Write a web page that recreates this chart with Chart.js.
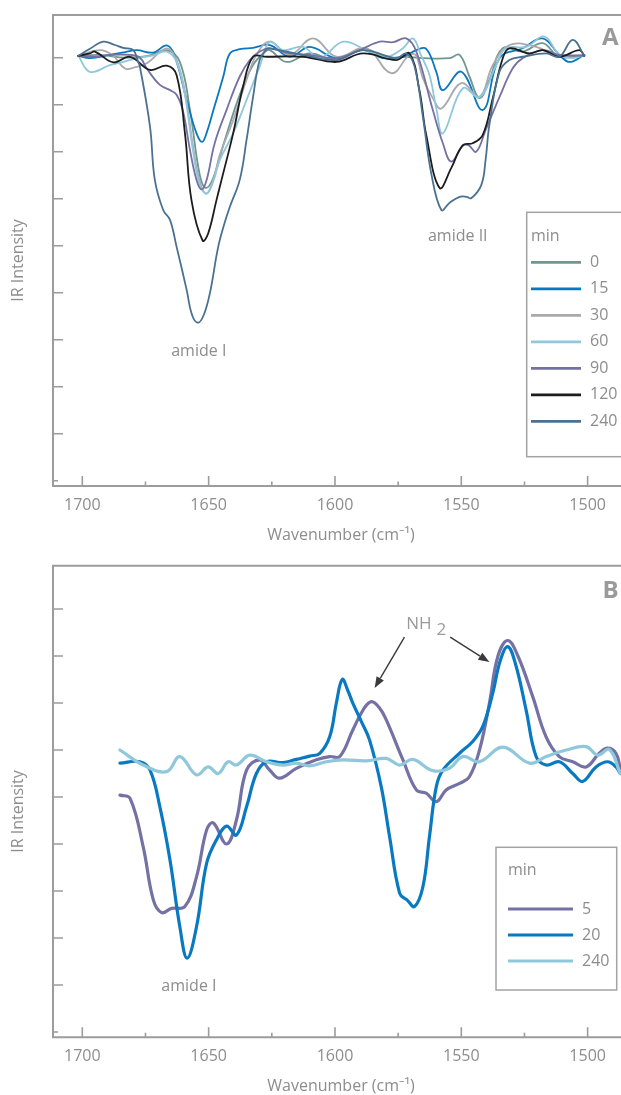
<!DOCTYPE html>
<html><head><meta charset="utf-8">
<script src="https://cdn.jsdelivr.net/npm/chart.js@4.4.1/dist/chart.umd.min.js"></script>
<style>
html,body{margin:0;padding:0;background:#fff;}
body{width:621px;height:1095px;position:relative;overflow:hidden;}
canvas{position:absolute;left:0;}
</style></head><body>
<canvas id="cA" width="621" height="547" style="top:0"></canvas>
<canvas id="cB" width="621" height="547" style="top:548px"></canvas>
<script>
// ---------- DATA ----------
const waveTicksMajor = [1700, 1650, 1600, 1550, 1500];
const waveTicksMinor = [1675, 1625, 1575, 1525];
const yTicksA = [0, -1, -2, -3, -4, -5, -6, -7, -8, -9];
const yTicksB = [3, 2, 1, 0, -1, -2, -3, -4, -5, -6];
const timesA = ['0', '15', '30', '60', '90', '120', '240'];
const timesB = ['5', '20', '240'];

// Panel A spectra: [wavenumber, intensity]
const A_0 = [[1701.6,0.04],[1693.0,0.06],[1683.0,0.00],[1674.0,0.04],[1666.6,0.16],[1661.4,-0.09],[1657.4,-1.11],[1653.5,-2.50],[1651.1,-2.77],[1648.2,-2.56],[1643.6,-1.75],[1637.7,-0.79],[1632.5,-0.16],[1627.8,0.12],[1625.8,0.16],[1619.2,-0.09],[1610.0,0.09],[1599.4,-0.05],[1588.9,0.20],[1579.7,-0.01],[1573.1,0.02],[1565.2,-0.01],[1554.7,-0.01],[1550.7,0.06],[1546.8,-0.40],[1542.8,-0.86],[1538.9,-0.47],[1533.6,0.20],[1525.7,0.13],[1517.8,0.31],[1511.2,0.02],[1501.3,0.06]];
const A_15 = [[1701.6,0.04],[1697.0,-0.01],[1689.1,0.06],[1683.0,0.12],[1678.5,0.16],[1671.9,0.11],[1666.6,0.26],[1663.5,0.05],[1658.7,-0.90],[1654.8,-1.61],[1652.6,-1.79],[1650.8,-1.60],[1648.2,-1.13],[1644.2,-0.40],[1641.6,0.09],[1637.7,0.18],[1632.4,0.21],[1625.8,0.27],[1617.9,0.02],[1610.0,0.23],[1599.4,-0.01],[1588.9,0.16],[1581.0,-0.01],[1573.1,0.02],[1567.8,0.16],[1563.9,0.19],[1559.9,-0.30],[1557.3,-0.69],[1550.0,-0.30],[1541.5,-1.11],[1534.9,-0.01],[1525.7,0.20],[1517.8,0.41],[1511.2,0.06],[1507.2,-0.09],[1501.3,0.06]];
const A_30 = [[1701.6,0.04],[1693.0,0.16],[1688.0,0.05],[1683.1,-0.23],[1679.0,-0.20],[1674.5,-0.12],[1666.6,0.20],[1662.7,-0.05],[1659.4,-0.73],[1656.25,-1.86],[1653.5,-2.64],[1650.8,-2.89],[1648.2,-2.60],[1645.6,-2.07],[1640.3,-1.33],[1635.0,-0.47],[1631.1,0.06],[1625.8,0.34],[1617.9,0.06],[1608.7,0.41],[1599.4,0.02],[1587.6,0.20],[1577.7,-0.33],[1570.5,0.06],[1568.0,0.05],[1565.2,-0.44],[1561.3,-0.86],[1557.9,-1.08],[1550.0,-0.54],[1542.8,-0.83],[1537.55,-0.16],[1530.95,0.27],[1520.4,0.23],[1512.5,0.06],[1501.3,0.06]];
const A_60 = [[1701.6,0.04],[1697.0,-0.30],[1689.1,-0.16],[1683.0,-0.08],[1678.5,-0.01],[1672.0,0.05],[1666.6,0.13],[1662.7,-0.09],[1659.4,-0.79],[1656.25,-1.96],[1653.5,-2.71],[1650.8,-2.89],[1648.2,-2.64],[1645.6,-2.18],[1640.3,-1.61],[1632.4,-0.54],[1629.8,-0.19],[1625.8,0.34],[1620.6,0.16],[1612.6,0.23],[1606.0,-0.01],[1596.8,0.34],[1587.6,0.16],[1579.7,0.02],[1573.1,0.20],[1569.2,0.41],[1566.0,0.06],[1562.6,-0.37],[1559.9,-1.08],[1557.3,-1.61],[1549.4,-0.65],[1542.8,-0.84],[1536.2,-0.16],[1532.3,0.20],[1524.35,0.23],[1517.1,0.45],[1511.2,0.06],[1505.9,-0.01],[1501.3,0.06]];
const A_90 = [[1701.6,0.04],[1694.3,0.02],[1689.1,0.06],[1681.1,0.06],[1677.2,0.00],[1674.5,-0.23],[1669.3,-0.58],[1665.3,-0.69],[1662.7,-0.79],[1660.1,-1.15],[1657.4,-1.96],[1654.8,-2.60],[1652.8,-2.80],[1650.8,-2.60],[1647.6,-1.82],[1642.9,-1.11],[1637.7,-0.40],[1633.7,-0.05],[1629.8,0.13],[1625.8,0.20],[1617.9,0.09],[1610.0,0.06],[1599.4,-0.01],[1591.5,0.13],[1582.3,0.34],[1577.0,0.33],[1571.8,0.41],[1567.8,0.13],[1561.3,-1.11],[1557.3,-1.82],[1554.0,-2.21],[1549.5,-1.88],[1547.2,-1.86],[1544.1,-2.00],[1540.4,-1.54],[1534.9,-0.84],[1529.6,-0.22],[1525.7,-0.01],[1517.8,0.16],[1511.2,0.06],[1501.3,0.04]];
const A_120 = [[1701.6,0.04],[1697.0,0.09],[1695.0,0.13],[1687.7,-0.10],[1681.1,0.02],[1673.2,-0.26],[1666.6,-0.17],[1662.7,-0.37],[1659.4,-1.60],[1656.8,-3.03],[1652.4,-3.89],[1650.2,-3.74],[1646.9,-3.03],[1644.9,-2.60],[1640.3,-1.61],[1636.4,-0.62],[1632.4,0.02],[1627.1,0.02],[1612.6,0.02],[1599.4,-0.09],[1588.9,0.09],[1575.7,-0.05],[1570.5,0.09],[1566.5,-0.72],[1563.9,-1.64],[1558.6,-2.77],[1554.0,-2.35],[1549.4,-1.86],[1545.5,-1.82],[1541.5,-1.64],[1537.55,-0.86],[1533.6,-0.01],[1530.95,0.20],[1523.0,0.09],[1517.8,0.16],[1511.2,0.02],[1503.3,0.16],[1501.3,0.04]];
const A_240 = [[1701.6,0.04],[1697.0,0.19],[1691.7,0.34],[1687.1,0.27],[1683.8,0.21],[1679.8,0.16],[1677.9,-0.09],[1677.2,-0.19],[1673.2,-1.47],[1671.3,-2.60],[1668.0,-3.24],[1665.3,-3.45],[1662.7,-4.02],[1658.7,-4.94],[1656.6,-5.47],[1654.2,-5.64],[1651.9,-5.47],[1649.5,-5.01],[1646.2,-4.02],[1643.6,-3.50],[1641.6,-3.17],[1637.7,-2.60],[1635.0,-1.75],[1632.4,-0.83],[1629.8,-0.05],[1627.1,0.18],[1625.8,0.20],[1612.6,0.06],[1599.4,-0.05],[1588.9,0.16],[1575.7,-0.01],[1571.8,0.09],[1568.5,-0.19],[1565.2,-1.26],[1561.9,-2.46],[1557.9,-3.24],[1554.7,-3.09],[1550.7,-2.96],[1547.9,-2.96],[1546.1,-2.99],[1542.1,-2.71],[1540.4,-2.18],[1538.9,-1.43],[1534.9,-0.30],[1530.95,-0.05],[1525.7,0.02],[1516.45,0.09],[1511.2,0.02],[1505.9,0.38],[1501.3,0.04]];

// Panel B spectra
const B_5 = [[1685.1,-0.96],[1681.1,-1.03],[1675.9,-2.06],[1671.9,-3.19],[1668.6,-3.46],[1664.7,-3.37],[1659.4,-3.33],[1654.8,-2.70],[1650.8,-1.70],[1648.2,-1.55],[1642.9,-2.00],[1639.0,-1.49],[1635.0,-0.43],[1629.8,-0.21],[1625.8,-0.43],[1621.9,-0.60],[1615.3,-0.39],[1607.35,-0.21],[1602.1,-0.14],[1598.1,-0.14],[1592.9,0.43],[1588.9,0.85],[1585.6,1.03],[1582.3,0.89],[1579.7,0.64],[1573.1,-0.21],[1567.8,-0.85],[1563.9,-0.92],[1559.9,-1.10],[1556.0,-0.85],[1550.7,-0.71],[1546.8,-0.57],[1542.8,0.00],[1538.9,0.99],[1535.5,2.00],[1531.6,2.33],[1527.6,2.00],[1521.7,1.13],[1516.45,0.28],[1511.2,-0.14],[1505.9,-0.25],[1500.6,-0.36],[1495.4,-0.07],[1492.1,0.04],[1488.8,-0.07],[1487.1,-0.39]];
const B_20 = [[1685.1,-0.28],[1677.2,-0.25],[1673.2,-0.43],[1669.3,-1.21],[1665.3,-2.34],[1661.4,-3.76],[1658.5,-4.43],[1654.8,-3.76],[1650.8,-2.41],[1646.9,-1.91],[1642.9,-1.62],[1639.0,-1.81],[1635.0,-1.21],[1631.1,-0.50],[1627.1,-0.25],[1620.6,-0.27],[1615.3,-0.20],[1610.0,-0.13],[1606.0,-0.07],[1602.1,0.28],[1599.45,1.00],[1597.1,1.50],[1594.8,1.25],[1592.9,0.99],[1589.5,0.60],[1586.3,0.21],[1581.7,-0.78],[1578.4,-1.84],[1574.4,-3.05],[1571.5,-3.19],[1568.5,-3.33],[1565.2,-2.91],[1562.6,-1.84],[1559.9,-0.78],[1557.3,-0.43],[1550.7,-0.07],[1545.5,0.18],[1541.5,0.50],[1537.55,1.21],[1534.6,1.90],[1531.6,2.20],[1528.5,1.82],[1524.35,0.85],[1520.4,-0.14],[1516.45,-0.32],[1511.2,-0.25],[1505.9,-0.50],[1502.0,-0.67],[1496.7,-0.36],[1492.1,-0.25],[1488.8,-0.36],[1487.1,-0.50]];
const B_240 = [[1685.1,0.00],[1675.9,-0.32],[1666.6,-0.46],[1661.4,-0.14],[1654.8,-0.53],[1650.2,-0.36],[1646.2,-0.50],[1642.3,-0.25],[1639.0,-0.32],[1633.7,-0.11],[1627.1,-0.25],[1620.6,-0.32],[1615.3,-0.28],[1610.0,-0.34],[1603.4,-0.25],[1596.8,-0.21],[1587.6,-0.23],[1579.7,-0.18],[1574.4,-0.32],[1569.2,-0.20],[1561.3,-0.44],[1554.7,-0.39],[1549.4,-0.14],[1542.8,-0.25],[1533.6,0.06],[1523.0,-0.28],[1516.45,-0.14],[1508.5,0.00],[1500.6,0.07],[1496.0,-0.11],[1491.4,0.01],[1487.1,-0.50]];

// annotations in data coordinates [wavenumber, intensity]
const annotA = [['amide I', 1653.9, -6.26], ['amide II', 1551.4, -3.81]];
const annotB = [['amide I', 1657.8, -5.04]];
const nh2Label = [1571.8, 2.68];
const nh2Arrows = [[1572.5, 2.40, 1584.3, 1.32], [1554.4, 2.40, 1538.9, 1.87]];

// ---------- STYLE ----------
const AXIS = '#9c9c9c';
const TEXT = '#8d8d8d';
const FAM = '"Open Sans", "Noto Sans", sans-serif';
const colorsA = ['#6f9690', '#0a78c0', '#aaaaae', '#8fc8dc', '#7571a3', '#1c1c1c', '#4b7190'];
const colorsB = ['#7471a5', '#0979c1', '#90c8db'];

function mkSets(list, labels, colors, lw) {
  return list.map((d, i) => ({
    label: labels[i],
    data: d.map(p => ({x: p[0], y: p[1]})),
    borderColor: colors[i],
    borderWidth: lw,
    pointRadius: 0,
    fill: false,
    tension: 0.4,
    borderJoinStyle: 'round',
    borderCapStyle: 'round',
    order: -i
  }));
}

function decor(o) {
  return {
    id: 'decor',
    beforeDatasetsDraw(chart) {
      const {ctx, chartArea: ca, scales: {x, y}} = chart;
      ctx.save();
      ctx.strokeStyle = AXIS;
      ctx.lineWidth = 2;
      ctx.beginPath();
      ctx.moveTo(ca.right, ca.top);
      ctx.lineTo(ca.left, ca.top);
      ctx.lineTo(ca.left, ca.bottom);
      ctx.lineTo(ca.right, ca.bottom);
      ctx.stroke();
      ctx.lineWidth = 1.6;
      ctx.beginPath();
      waveTicksMajor.forEach(w => { const X = x.getPixelForValue(w); ctx.moveTo(X, ca.bottom); ctx.lineTo(X, ca.bottom - 10); });
      waveTicksMinor.forEach(w => { const X = x.getPixelForValue(w); ctx.moveTo(X, ca.bottom); ctx.lineTo(X, ca.bottom - 4.5); });
      o.yTicks.forEach((v, i) => {
        const Y = y.getPixelForValue(v);
        const len = i === o.yTicks.length - 1 ? 5 : 10;
        ctx.moveTo(ca.left, Y); ctx.lineTo(ca.left + len, Y);
      });
      ctx.stroke();
      ctx.restore();
    },
    afterDatasetsDraw(chart) {
      const {ctx, chartArea: ca, scales: {x, y}} = chart;
      ctx.save();
      ctx.fillStyle = TEXT;
      ctx.font = '16px ' + FAM;
      ctx.textAlign = 'center';
      ctx.textBaseline = 'middle';
      ctx.fillText('Wavenumber (cm\u207B\u00B9)', (ca.left + ca.right) / 2 + 4, ca.bottom + 49);
      ctx.save();
      ctx.translate(18, (ca.top + ca.bottom) / 2 + 10);
      ctx.rotate(-Math.PI / 2);
      ctx.fillText('IR Intensity', 0, 0);
      ctx.restore();
      o.annot.forEach(a => {
        ctx.fillText(a[0], x.getPixelForValue(a[1]), y.getPixelForValue(a[2]));
      });
      ctx.font = 'bold 24px ' + FAM;
      ctx.fillStyle = '#9a9a9a';
      ctx.textAlign = 'right';
      ctx.textBaseline = 'alphabetic';
      ctx.fillText(o.letter, 618.5, o.letterY);
      const L = o.legend;
      ctx.fillStyle = '#fff';
      ctx.fillRect(L.x, L.y, L.w, L.h);
      ctx.strokeStyle = '#a3a3a3';
      ctx.lineWidth = 1.5;
      ctx.strokeRect(L.x, L.y, L.w, L.h);
      ctx.font = '16px ' + FAM;
      ctx.textAlign = 'left';
      ctx.textBaseline = 'middle';
      ctx.fillStyle = TEXT;
      ctx.fillText('min', L.titleX, L.titleY);
      chart.data.datasets.forEach((ds, i) => {
        const yy = L.itemY + i * L.step;
        ctx.strokeStyle = ds.borderColor;
        ctx.lineWidth = L.lw;
        ctx.lineCap = 'butt';
        ctx.beginPath(); ctx.moveTo(L.x0, yy); ctx.lineTo(L.x1, yy); ctx.stroke();
        ctx.fillStyle = TEXT;
        ctx.fillText(ds.label, L.tx, yy);
      });
      if (o.extra) o.extra(chart);
      ctx.restore();
    }
  };
}

function arrow(ctx, x1, y1, x2, y2) {
  const ang = Math.atan2(y2 - y1, x2 - x1);
  const hl = 11, hw = 4.2;
  const bx = x2 - hl * Math.cos(ang), by = y2 - hl * Math.sin(ang);
  ctx.beginPath(); ctx.moveTo(x1, y1); ctx.lineTo(bx, by); ctx.stroke();
  ctx.beginPath();
  ctx.moveTo(x2, y2);
  ctx.lineTo(bx + hw * Math.sin(ang), by - hw * Math.cos(ang));
  ctx.lineTo(bx - hw * Math.sin(ang), by + hw * Math.cos(ang));
  ctx.closePath(); ctx.fill();
}

function makeChart(id, sets, yMin, yMax, topPad, bottomY, o) {
  const H = 547;
  return new Chart(document.getElementById(id), {
    type: 'line',
    data: {datasets: sets},
    options: {
      responsive: false,
      animation: false,
      devicePixelRatio: 1,
      layout: {padding: {left: 53, top: topPad, right: 0, bottom: 0}},
      plugins: {legend: {display: false}, tooltip: {enabled: false}},
      scales: {
        x: {
          type: 'linear', reverse: true, min: 1486.8, max: 1711.6,
          grid: {display: false, drawTicks: false},
          border: {display: false},
          ticks: {stepSize: 50, includeBounds: false, autoSkip: false, maxRotation: 0,
                  font: {family: FAM, size: 16}, color: TEXT, padding: 10,
                  callback: v => String(v)},
          afterFit: s => { s.height = H - bottomY; }
        },
        y: {type: 'linear', display: false, min: yMin, max: yMax}
      }
    },
    plugins: [decor(o)]
  });
}

makeChart('cA', mkSets([A_0, A_15, A_30, A_60, A_90, A_120, A_240], timesA, colorsA, 1.8),
  -9.113, 0.9085, 15, 486, {
    yTicks: yTicksA, annot: annotA, letter: 'A', letterY: 45,
    legend: {x: 526.7, y: 212.3, w: 120, h: 244.4, titleX: 531, titleY: 236.7,
             itemY: 262.3, step: 26.5, x0: 531, x1: 581, tx: 590, lw: 2.8}
  });

makeChart('cB', mkSets([B_5, B_20, B_240], timesB, colorsB, 3.2),
  -6.113, 3.921, 17.7, 489.3, {
    yTicks: yTicksB, annot: annotB, letter: 'B', letterY: 50,
    legend: {x: 496, y: 299.3, w: 120.7, h: 142.7, titleX: 508, titleY: 322,
             itemY: 361, step: 26, x0: 508, x1: 573, tx: 582, lw: 3.2},
    extra: chart => {
      const {ctx, scales: {x, y}} = chart;
      const lx = x.getPixelForValue(nh2Label[0]), ly = y.getPixelForValue(nh2Label[1]);
      ctx.font = '17px ' + FAM;
      ctx.fillStyle = '#9a9a9a';
      ctx.textAlign = 'left';
      ctx.textBaseline = 'middle';
      ctx.fillText('NH', lx, ly);
      const wNH = ctx.measureText('NH').width;
      ctx.fillText('2', lx + wNH + 5, ly + 6);
      ctx.strokeStyle = '#3a3a3a';
      ctx.fillStyle = '#3a3a3a';
      ctx.lineWidth = 1.4;
      nh2Arrows.forEach(a => arrow(ctx, x.getPixelForValue(a[0]), y.getPixelForValue(a[1]),
                                        x.getPixelForValue(a[2]), y.getPixelForValue(a[3])));
    }
  });
</script>
</body></html>
